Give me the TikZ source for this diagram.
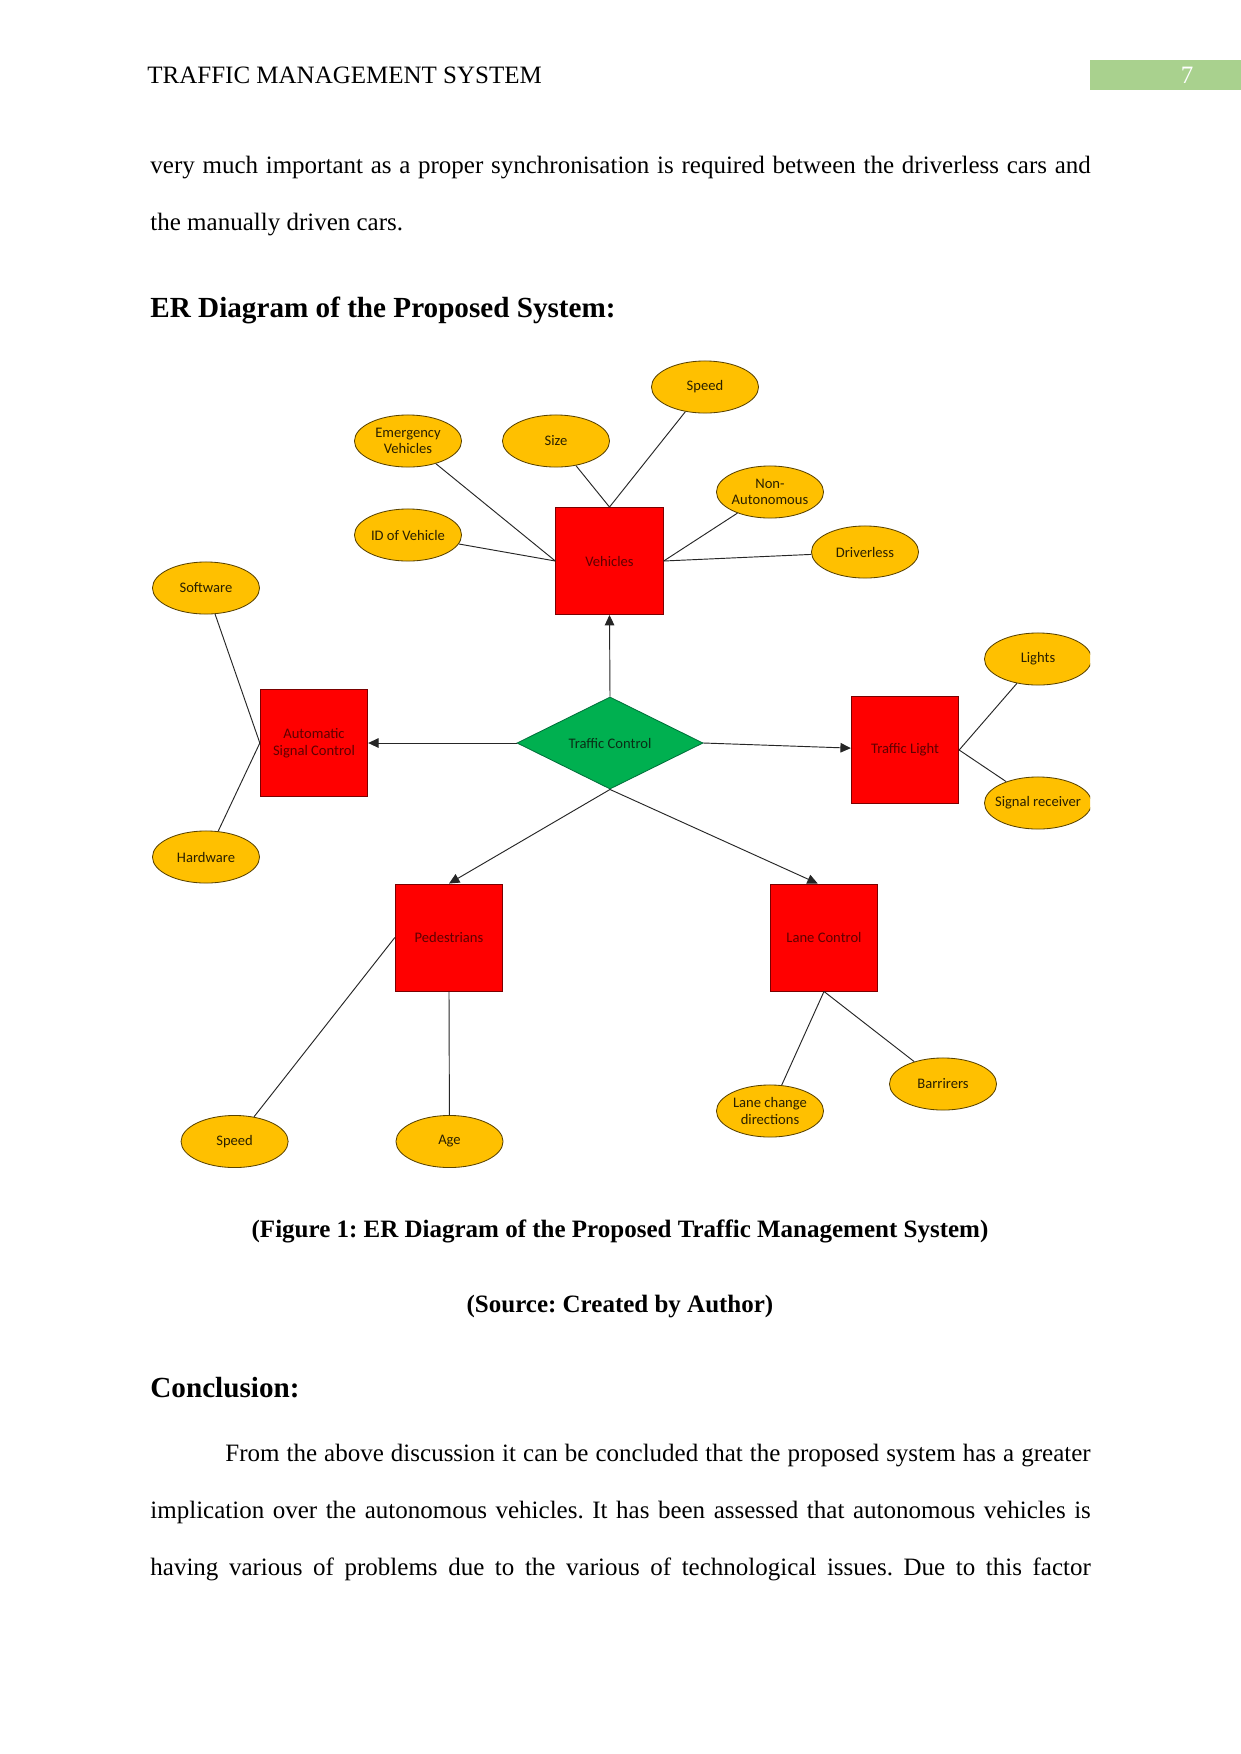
\documentclass[tikz,border=0pt]{standalone}
\usepackage{fontspec}
\setmainfont{Liberation Serif}
\newfontfamily\dgmfont{Carlito}
\usetikzlibrary{shapes.geometric, arrows.meta}
\usepackage{xcolor}
\frenchspacing
\definecolor{attrfill}{HTML}{FFC000}
\definecolor{attrline}{HTML}{5A4300}
\definecolor{attrtext}{HTML}{2A2000}
\definecolor{entfill}{HTML}{FF0000}
\definecolor{entline}{HTML}{7A0000}
\definecolor{enttext}{HTML}{5E0000}
\definecolor{relfill}{HTML}{00B050}
\definecolor{relline}{HTML}{00703A}
\definecolor{reltext}{HTML}{0A2E16}
\definecolor{pagegreen}{HTML}{A9D18E}
\tikzstyle{attr} = [ellipse, minimum width=51.4pt, minimum height=25pt,
    inner xsep=-4pt, inner ysep=0pt, draw=attrline, fill=attrfill, text=attrtext,
    align=center, font=\dgmfont\fontsize{7}{8}\selectfont]
\tikzstyle{entity} = [rectangle, minimum width=51.6pt, minimum height=51.4pt,
    inner sep=0pt, draw=entline, fill=entfill, text=enttext,
    align=center, font=\dgmfont\fontsize{7}{8}\selectfont]
\tikzstyle{rel} = [diamond, aspect=2, minimum width=89.3pt, minimum height=44.2pt,
    inner sep=0pt, draw=relline, fill=relfill, text=reltext,
    font=\dgmfont\fontsize{7}{8}\selectfont]
\tikzstyle{link} = [draw=black!85, line width=0.45pt]
\tikzstyle{arrow} = [link, -{Triangle[length=5pt, width=4.6pt]}]
\tikzstyle{body} = [anchor=base west, inner sep=0pt, font=\fontsize{12}{14}\selectfont]
\tikzstyle{head} = [body, font=\fontsize{14}{16}\selectfont\bfseries]
\newcommand{\jline}[2]{\makebox[#1][s]{#2}}

\begin{document}
\begin{tikzpicture}[x=0.48pt, y=-0.48pt]
\useasboundingbox (0,0) rectangle (1241,1754);
\fill[white] (0,0) rectangle (1241,1754);

% page header and text above the figure
\node (hdr) [body] at (147,83) {TRAFFIC MANAGEMENT SYSTEM};
\node (pgbox) [rectangle, fill=pagegreen, anchor=north west, inner sep=0pt,
    minimum width=72.5pt, minimum height=14pt] at (1090,60) {};
\node (pgnum) [body, anchor=base, text=white] at (1187,83) {7};
\node (txt1) [body] at (150,173) {\jline{451.4pt}{very much important as a proper synchronisation is required between the driverless cars and}};
\node (txt2) [body] at (150,230) {the manually driven cars.};
\node (erhead) [head] at (150,317) {ER Diagram of the Proposed System:};

% entities and relation
\node (veh) [entity] at (609.5,561) {Vehicles};
\node (asc) [entity] at (314,743) {Automatic\\Signal Control};
\node (tc) [rel] at (610,743) {Traffic Control};
\node (tlight) [entity] at (905,750) {Traffic Light};
\node (ped) [entity] at (449,937.5) {Pedestrians};
\node (lane) [entity] at (824,937.5) {Lane Control};

% attributes
\node (vspeed) [attr] at (705,387) {Speed};
\node (emerg) [attr] at (408,441) {Emergency\\Vehicles};
\node (size) [attr] at (556,441) {Size};
\node (idveh) [attr] at (408,535) {ID of Vehicle};
\node (nonauto) [attr] at (770,492) {Non-\\Autonomous};
\node (driverless) [attr] at (865,552) {Driverless};
\node (software) [attr] at (206,588) {Software};
\node (hardware) [attr] at (206,857) {Hardware};
\begin{scope}
\clip (0,0) rectangle (1090,1754);
\node (lights) [attr] at (1038,659) {Lights};
\node (sigrx) [attr] at (1038,803) {Signal receiver};
\end{scope}
\node (pspeed) [attr] at (234.6,1141.5) {Speed};
\node (age) [attr] at (449.5,1141.5) {Age};
\node (lanechg) [attr] at (770,1111) {Lane change\\directions};
\node (barr) [attr] at (943,1084) {Barrirers};

\draw[link] (emerg) -- (veh.west);
\draw[link] (idveh) -- (veh.west);
\draw[link] (size) -- (veh.north);
\draw[link] (vspeed) -- (veh.north);
\draw[link] (nonauto) -- (veh.east);
\draw[link] (driverless) -- (veh.east);
\draw[link] (software) -- (asc.west);
\draw[link] (hardware) -- (asc.west);
\draw[link] (lights) -- (tlight.east);
\draw[link] (sigrx) -- (tlight.east);
\draw[link] (pspeed) -- (ped.west);
\draw[link] (age) -- (ped.south);
\draw[link] (lanechg) -- (lane.south);
\draw[link] (barr) -- (lane.south);

\draw[arrow] (tc.north) -- (veh.south);
\draw[arrow] (tc.west) -- (asc.east);
\draw[arrow] (tc.east) -- (tlight);
\draw[arrow] (tc.south) -- (ped.north);
\draw[arrow] (tc.south) -- ([xshift=-3pt]lane.north);

% captions and text below the figure
\node (figcap) [body, anchor=base, font=\fontsize{12}{14}\selectfont\bfseries] at (620,1237) {(Figure 1: ER Diagram of the Proposed Traffic Management System)};
\node (source) [body, anchor=base, font=\fontsize{12}{14}\selectfont\bfseries] at (620,1312) {(Source: Created by Author)};
\node (conhead) [head] at (150,1397) {Conclusion:};
\node (con1) [body] at (225,1461) {\jline{415.3pt}{From the above discussion it can be concluded that the proposed system has a greater}};
\node (con2) [body] at (150,1518) {\jline{451.4pt}{implication over the autonomous vehicles. It has been assessed that autonomous vehicles is}};
\node (con3) [body] at (150,1575) {\jline{451.4pt}{having various of problems due to the various of technological issues. Due to this factor}};
\end{tikzpicture}
\end{document}
